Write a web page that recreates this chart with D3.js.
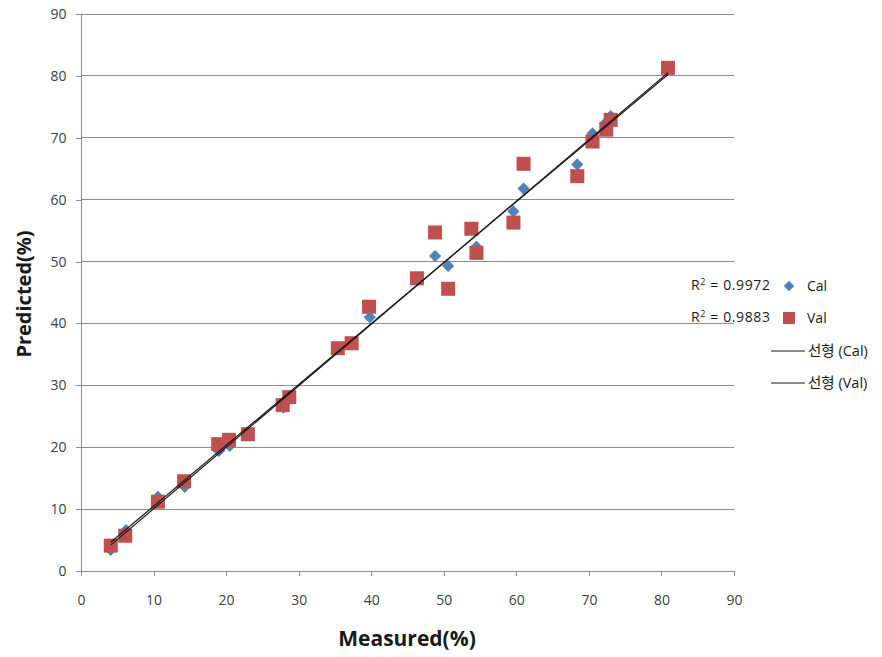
<!DOCTYPE html>
<html>
<head>
<meta charset="utf-8">
<script src="https://cdn.jsdelivr.net/npm/d3@7"></script>
<style>
  html, body { margin: 0; padding: 0; background: #fff; }
  svg { display: block; }
</style>
</head>
<body>
<svg id="chart" width="882" height="657"></svg>
<script>
// Calibration set: measured vs predicted (%)
const calMeasured  = [4.1, 6.2, 10.6, 14.3, 19.0, 20.5, 27.9, 35.5, 37.2, 39.8, 46.3, 48.8, 50.6, 54.5, 59.6, 61.0, 68.4, 70.5, 72.2, 73.0, 80.9];
const calPredicted = [3.4, 6.6, 12.0, 13.6, 19.4, 20.2, 26.4, 35.8, 36.8, 41.0, 47.0, 50.9, 49.3, 52.4, 58.1, 61.8, 65.7, 70.7, 72.3, 73.5, 81.0];

// Validation set: measured vs predicted (%)
const valMeasured  = [4.1, 6.1, 10.6, 14.2, 18.9, 20.4, 23.0, 27.8, 28.7, 35.4, 37.3, 39.7, 46.3, 48.8, 50.6, 53.8, 54.5, 59.6, 61.0, 68.4, 70.5, 72.4, 73.0, 80.9];
const valPredicted = [4.1, 5.7, 11.2, 14.5, 20.5, 21.2, 22.1, 26.8, 28.1, 36.0, 36.8, 42.7, 47.3, 54.7, 45.6, 55.3, 51.4, 56.3, 65.8, 63.8, 69.4, 71.3, 72.9, 81.3];

const r2Labels = ["R\u00B2 = 0.9972", "R\u00B2 = 0.9883"];
const seriesNames = ["Cal", "Val"];
const trendNames = ["선형 (Cal)", "선형 (Val)"];
const axisTicks = [0, 10, 20, 30, 40, 50, 60, 70, 80, 90];

const calColor = "#4F81BD";
const valColor = "#C0504D";
const gridColor = "#8c8c8c";
const font = "'Open Sans', 'Noto Sans', 'Noto Sans CJK KR', sans-serif";

const svg = d3.select("#chart");
const plotLeft = 81, plotRight = 734, plotTop = 14, plotBottom = 571;

const x = d3.scaleLinear().domain([0, 90]).range([plotLeft, plotRight]);
const y = d3.scaleLinear().domain([0, 90]).range([plotBottom, plotTop]);

// Horizontal gridlines
svg.append("g")
  .selectAll("line")
  .data(axisTicks.filter(d => d > 0))
  .join("line")
  .attr("x1", plotLeft).attr("x2", plotRight)
  .attr("y1", d => y(d)).attr("y2", d => y(d))
  .attr("stroke", gridColor).attr("stroke-width", 1)
  .attr("shape-rendering", "crispEdges");

// Axes
const xAxis = svg.append("g")
  .attr("transform", `translate(0,${plotBottom})`)
  .call(d3.axisBottom(x).tickValues(axisTicks).tickSize(5).tickPadding(19).tickSizeOuter(0));
const yAxis = svg.append("g")
  .attr("transform", `translate(${plotLeft},0)`)
  .call(d3.axisLeft(y).tickValues(axisTicks).tickSize(5).tickPadding(8).tickSizeOuter(0));

[xAxis, yAxis].forEach(g => {
  g.select(".domain").attr("stroke", gridColor).attr("shape-rendering", "crispEdges");
  g.selectAll(".tick line").attr("stroke", gridColor).attr("shape-rendering", "crispEdges");
  g.selectAll(".tick text")
    .attr("fill", "#404040")
    .style("font-family", font)
    .style("font-size", "14px");
});
yAxis.selectAll(".tick text").attr("dx", "-0.1em");

// Least-squares trendline over the span of each series
function fit(xs, ys) {
  const mx = d3.mean(xs), my = d3.mean(ys);
  let sxy = 0, sxx = 0;
  xs.forEach((v, i) => { sxy += (v - mx) * (ys[i] - my); sxx += (v - mx) * (v - mx); });
  const slope = sxy / sxx, icpt = my - slope * mx;
  const x0 = d3.min(xs), x1 = d3.max(xs);
  return [[x0, icpt + slope * x0], [x1, icpt + slope * x1]];
}

// Markers
const calPts = calMeasured.map((m, i) => [m, calPredicted[i]]);
const valPts = valMeasured.map((m, i) => [m, valPredicted[i]]);

svg.append("g")
  .selectAll("path")
  .data(calPts)
  .join("path")
  .attr("d", d3.symbol(d3.symbolDiamond2, 95))
  .attr("transform", d => `translate(${x(d[0])},${y(d[1])})`)
  .attr("fill", calColor);

svg.append("g")
  .selectAll("rect")
  .data(valPts)
  .join("rect")
  .attr("x", d => x(d[0]) - 7).attr("y", d => y(d[1]) - 7)
  .attr("width", 14).attr("height", 14)
  .attr("fill", valColor);

// Trendlines
const line = d3.line().x(d => x(d[0])).y(d => y(d[1]));
[fit(calMeasured, calPredicted), fit(valMeasured, valPredicted)].forEach(seg => {
  svg.append("path")
    .attr("d", line(seg))
    .attr("fill", "none")
    .attr("stroke", "#1a1a1a")
    .attr("stroke-width", 1.2);
});

// R² labels and legend
const legend = svg.append("g").style("font-family", font).style("font-size", "14px").attr("fill", "#1a1a1a");
r2Labels.forEach((t, i) => {
  const ty = 290 + i * 32;
  const txt = legend.append("text").attr("x", 691).attr("y", ty).attr("textLength", 79);
  txt.append("tspan").text("R");
  txt.append("tspan").attr("dy", -5).style("font-size", "9px").text("2");
  txt.append("tspan").attr("dy", 5).text(t.slice(2));
});

legend.append("path")
  .attr("d", d3.symbol(d3.symbolDiamond2, 70))
  .attr("transform", "translate(789,286)")
  .attr("fill", calColor);
legend.append("rect")
  .attr("x", 783).attr("y", 312).attr("width", 12).attr("height", 12)
  .attr("fill", valColor);
seriesNames.forEach((t, i) => {
  legend.append("text").attr("x", 807).attr("y", 291 + i * 32).text(t);
});
trendNames.forEach((t, i) => {
  const ly = 351 + i * 32;
  legend.append("line")
    .attr("x1", 771).attr("x2", 805).attr("y1", ly).attr("y2", ly)
    .attr("stroke", "#1a1a1a").attr("stroke-width", 1);
  legend.append("text").attr("x", 808).attr("y", ly + 5).style("font-size", "14.5px").text(t);
});

// Axis titles
svg.append("text")
  .attr("x", 407).attr("y", 646)
  .attr("text-anchor", "middle")
  .style("font-family", font).style("font-size", "21px").style("font-weight", "bold")
  .attr("fill", "#1a1a1a")
  .text("Measured(%)");
svg.append("text")
  .attr("transform", "translate(31,294) rotate(-90)")
  .attr("text-anchor", "middle")
  .style("font-family", font).style("font-size", "20px").style("font-weight", "bold")
  .attr("fill", "#1a1a1a")
  .text("Predicted(%)");
</script>
</body>
</html>
